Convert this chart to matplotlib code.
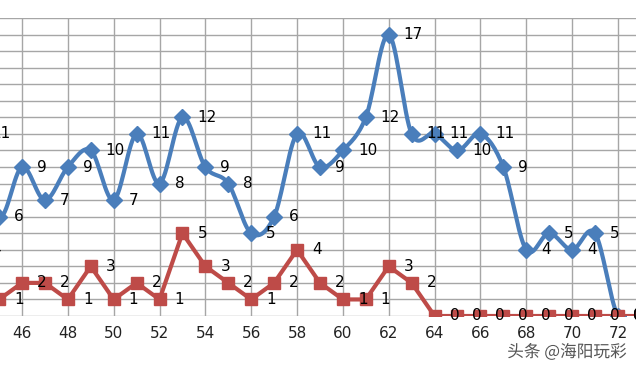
import matplotlib
matplotlib.use("Agg")
import matplotlib.pyplot as plt
import matplotlib.patheffects as pe
import numpy as np

# data
blue_x = list(range(44, 73))
blue_y = [11, 6, 9, 7, 9, 10, 7, 11, 8, 12, 9, 8, 5, 6, 11, 9, 10, 12, 17,
          11, 11, 10, 11, 9, 4, 5, 4, 5, 0]
red_x = list(range(44, 74))
red_y = [4, 1, 2, 2, 1, 3, 1, 2, 1, 5, 3, 2, 1, 2, 4, 2, 1, 1, 3, 2,
         0, 0, 0, 0, 0, 0, 0, 0, 0, 0]
x_ticks = list(range(44, 74, 2))

blue = '#4a7ebb'
red = '#be4b48'


def smooth(xs, ys, n=16):
    # catmull-rom curve through the points, like excel's smoothed line
    xs = np.asarray(xs, float)
    ys = np.asarray(ys, float)
    px = np.concatenate([[2 * xs[0] - xs[1]], xs, [2 * xs[-1] - xs[-2]]])
    py = np.concatenate([[ys[0]], ys, [ys[-1]]])
    outx, outy = [], []
    t = np.linspace(0, 1, n, endpoint=False)
    for i in range(1, len(px) - 2):
        p0, p1, p2, p3 = py[i - 1], py[i], py[i + 1], py[i + 2]
        q0, q1, q2, q3 = px[i - 1], px[i], px[i + 1], px[i + 2]
        k = 1 / 6
        c1y, c2y = p1 + (p2 - p0) * k, p2 - (p3 - p1) * k
        c1x, c2x = q1 + (q2 - q0) * k, q2 - (q3 - q1) * k
        outy.extend((1 - t) ** 3 * p1 + 3 * (1 - t) ** 2 * t * c1y + 3 * (1 - t) * t ** 2 * c2y + t ** 3 * p2)
        outx.extend((1 - t) ** 3 * q1 + 3 * (1 - t) ** 2 * t * c1x + 3 * (1 - t) * t ** 2 * c2x + t ** 3 * q2)
    outx.append(xs[-1])
    outy.append(ys[-1])
    return outx, outy


fig = plt.figure(figsize=(6.36, 3.67), dpi=100)
ax = fig.add_axes([0, 51 / 367, 1, 298 / 367])

for v in range(0, 19):
    ax.axhline(v, color='#a6a6a6', lw=1, zorder=0)
for v in x_ticks:
    ax.axvline(v, color='#a6a6a6', lw=1, zorder=0)

sx, sy = smooth(blue_x, blue_y)
ax.plot(sx, sy, color=blue, lw=3, zorder=2, solid_capstyle='round')
ax.plot(blue_x, blue_y, 'D', color=blue, ms=8.5, zorder=3)
ax.plot(red_x, red_y, '-s', color=red, lw=3, ms=8, zorder=4)

# data labels sit to the right of each point
for x, y in zip(blue_x, blue_y):
    ax.annotate(str(y), (x, y), xytext=(15, 0), textcoords='offset pixels',
                ha='left', va='center', fontsize=11, zorder=5,
                annotation_clip=False)
for x, y in zip(red_x, red_y):
    ax.annotate(str(y), (x, y), xytext=(15, 0), textcoords='offset pixels',
                ha='left', va='center', fontsize=11, zorder=5,
                annotation_clip=False)

ax.set_xticks(x_ticks)
ax.set_xticklabels([str(v) for v in x_ticks], fontsize=11, color='#222222')
ax.set_yticks([])
ax.set_xlim(45.04, 72.79)
ax.set_ylim(0, 18)
ax.tick_params(axis='x', length=0, pad=7)
for s in ax.spines.values():
    s.set_visible(False)

fig.text(0.985, 0.04, '头条 @海阳玩彩', ha='right', va='center', fontsize=12,
         color='#555555', family=['Noto Sans CJK SC', 'DejaVu Sans'],
         path_effects=[pe.withStroke(linewidth=2, foreground='white')])

fig.savefig('out.png', dpi=100)
